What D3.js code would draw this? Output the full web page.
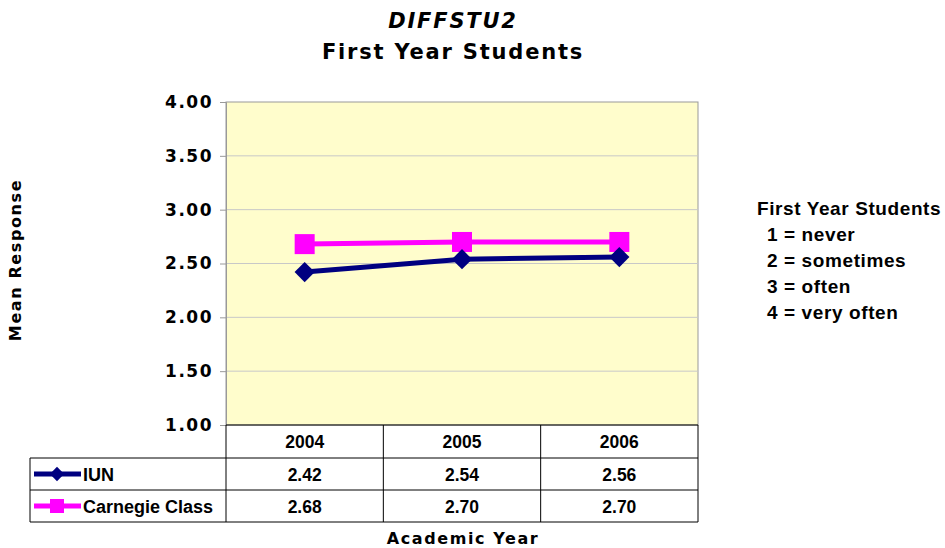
<!DOCTYPE html>
<html><head><meta charset="utf-8">
<script src="https://cdn.jsdelivr.net/npm/d3@7"></script>
<style>body{margin:0;background:#fff}svg{display:block}</style>
</head><body>
<script>
const categories = ["2004", "2005", "2006"];
const seriesNames = ["IUN", "Carnegie Class"];
const iunValues = [2.42, 2.54, 2.56];
const carnegieValues = [2.68, 2.70, 2.70];
const yTicks = [1.0, 1.5, 2.0, 2.5, 3.0, 3.5, 4.0];
const legendLines = ["First Year Students", "1 = never", "2 = sometimes", "3 = often", "4 = very often"];

(function () {
const W = 945, H = 548;
const svg = d3.select("body").append("svg").attr("width", W).attr("height", H);
const pL = 226, pR = 698, pT = 102, pB = 425;
const x = d3.scaleBand().domain(categories).range([pL, pR]).padding(0);
const y = d3.scaleLinear().domain([1, 4]).range([pB, pT]);
const verd = "Verdana, 'DejaVu Sans', sans-serif";
const arial = "'Liberation Sans', Arial, sans-serif";

// title
svg.append("text").attr("x", 453).attr("y", 28).attr("text-anchor", "middle")
  .attr("font-family", verd).attr("font-weight", "bold").attr("font-style", "italic")
  .attr("font-size", 21).attr("letter-spacing", 1.8).text("DIFFSTU2");
svg.append("text").attr("x", 453).attr("y", 59).attr("text-anchor", "middle")
  .attr("font-family", verd).attr("font-weight", "bold")
  .attr("font-size", 21).attr("letter-spacing", 1.8).text("First Year Students");

// plot background
svg.append("rect").attr("x", pL).attr("y", pT).attr("width", pR - pL).attr("height", pB - pT)
  .attr("fill", "#FFFDCC").attr("stroke", "#999").attr("stroke-width", 1);

// grid
svg.append("g").selectAll("line").data(yTicks.filter(d => d > 1 && d < 4)).join("line")
  .attr("x1", pL).attr("x2", pR).attr("y1", d => y(d)).attr("y2", d => y(d))
  .attr("stroke", "#c8c8c8").attr("stroke-width", 1);

// y axis
const yAxis = d3.axisLeft(y).tickValues(yTicks).tickFormat(d3.format(".2f")).tickSize(6).tickPadding(7);
const ga = svg.append("g").attr("transform", `translate(${pL},0)`).call(yAxis);
ga.select(".domain").attr("stroke", "#999");
ga.selectAll(".tick line").attr("stroke", "#999");
ga.selectAll("text").attr("font-family", verd).attr("font-weight", "bold").attr("font-size", 17)
  .attr("letter-spacing", 1.5).attr("fill", "#000");

// y axis title
svg.append("text").attr("transform", "translate(21,260) rotate(-90)").attr("text-anchor", "middle")
  .attr("font-family", verd).attr("font-weight", "bold").attr("font-size", 16).attr("letter-spacing", 1.6).text("Mean Response");

// lines
const cx = d => x(d) + x.bandwidth() / 2;
const lineGen = vals => d3.line().x((d, i) => cx(categories[i])).y(d => y(d))(vals);
svg.append("path").attr("d", lineGen(carnegieValues)).attr("fill", "none").attr("stroke", "#FF00FF").attr("stroke-width", 5);
svg.append("path").attr("d", lineGen(iunValues)).attr("fill", "none").attr("stroke", "#000080").attr("stroke-width", 5);
svg.append("g").selectAll("rect").data(carnegieValues).join("rect")
  .attr("x", (d, i) => cx(categories[i]) - 10).attr("y", d => y(d) - 10)
  .attr("width", 20).attr("height", 20).attr("fill", "#FF00FF");
const diamond = d3.symbol().type(d3.symbolDiamond2).size(260);
svg.append("g").selectAll("path").data(iunValues).join("path")
  .attr("d", diamond).attr("transform", (d, i) => `translate(${cx(categories[i])},${y(d)})`)
  .attr("fill", "#000080");

// data table
const tableLeft = 30;
const rowY = [425, 458, 490, 522];
const tg = svg.append("g").attr("stroke", "#000").attr("stroke-width", 1);
tg.append("line").attr("x1", pL).attr("x2", pR).attr("y1", rowY[0]).attr("y2", rowY[0]);
tg.append("line").attr("x1", tableLeft).attr("x2", pR).attr("y1", rowY[1]).attr("y2", rowY[1]);
tg.append("line").attr("x1", tableLeft).attr("x2", pR).attr("y1", rowY[2]).attr("y2", rowY[2]);
tg.append("line").attr("x1", tableLeft).attr("x2", pR).attr("y1", rowY[3]).attr("y2", rowY[3]);
tg.append("line").attr("x1", tableLeft).attr("x2", tableLeft).attr("y1", rowY[1]).attr("y2", rowY[3]);
[pL, ...categories.map(c => x(c) + x.bandwidth())].forEach(xx => {
  tg.append("line").attr("x1", xx).attr("x2", xx).attr("y1", rowY[0]).attr("y2", rowY[3]);
});
const tt = svg.append("g").attr("font-family", arial).attr("font-weight", "bold").attr("font-size", 17.5).attr("text-anchor", "middle");
categories.forEach(c => tt.append("text").attr("x", cx(c)).attr("y", 448).text(c));
iunValues.forEach((v, i) => tt.append("text").attr("x", cx(categories[i])).attr("y", 481).text(v.toFixed(2)));
carnegieValues.forEach((v, i) => tt.append("text").attr("x", cx(categories[i])).attr("y", 513).text(v.toFixed(2)));

// row labels with keys
const keyY = [474, 506];
const keyColors = ["#000080", "#FF00FF"];
seriesNames.forEach((n, i) => {
  svg.append("line").attr("x1", 34).attr("x2", 81).attr("y1", keyY[i]).attr("y2", keyY[i])
    .attr("stroke", keyColors[i]).attr("stroke-width", 5);
  if (i === 0) {
    svg.append("path").attr("d", d3.symbol().type(d3.symbolDiamond2).size(130)).attr("transform", `translate(57,${keyY[i]})`).attr("fill", keyColors[i]);
  } else {
    svg.append("rect").attr("x", 50).attr("y", keyY[i] - 7).attr("width", 14).attr("height", 14).attr("fill", keyColors[i]);
  }
  svg.append("text").attr("x", 83).attr("y", keyY[i] + 7).attr("font-family", arial).attr("font-weight", "bold")
    .attr("font-size", 18).text(n);
});

// x axis title
svg.append("text").attr("x", 463).attr("y", 544).attr("text-anchor", "middle")
  .attr("font-family", verd).attr("font-weight", "bold").attr("font-size", 16).attr("letter-spacing", 1.6).text("Academic Year");

// right legend text
legendLines.forEach((t, i) => {
  svg.append("text").attr("x", i === 0 ? 757 : 767).attr("y", 215 + i * 26)
    .attr("font-family", arial).attr("font-weight", "bold").attr("font-size", 19).attr("letter-spacing", 0.6).text(t);
});
})();
</script>
</body></html>
